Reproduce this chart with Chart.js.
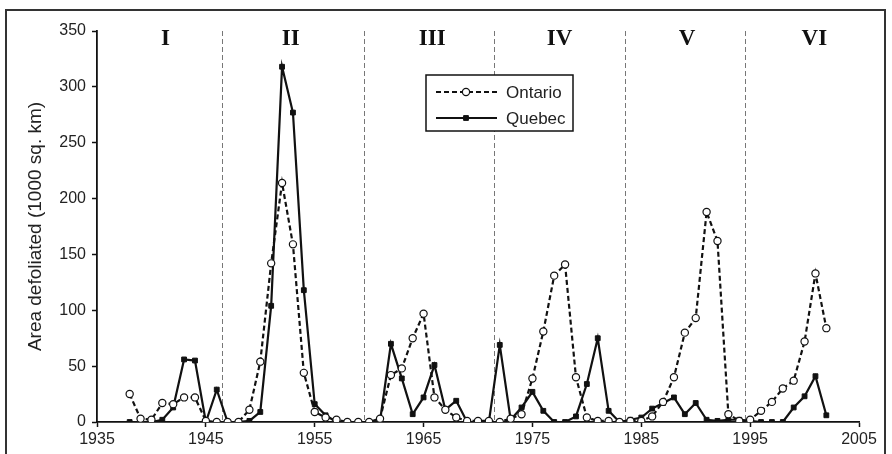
<!DOCTYPE html>
<html>
<head>
<meta charset="utf-8">
<script src="https://cdn.jsdelivr.net/npm/chart.js@4/dist/chart.umd.min.js"></script>
<style>
    html, body { margin: 0; padding: 0; background: #fff; }
    #wrap { width: 892px; height: 454px; }
</style>
</head>
<body>
<div id="wrap"><canvas id="chart" width="892" height="454"></canvas></div>
<script>
(function () {
    'use strict';

    // -----------------------------------------------------------------------
    // Data (area defoliated, 1000 sq. km)
    // -----------------------------------------------------------------------
    const YEARS = [
        1938, 1939, 1940, 1941, 1942, 1943, 1944, 1945, 1946, 1947,
        1948, 1949, 1950, 1951, 1952, 1953, 1954, 1955, 1956, 1957,
        1958, 1959, 1960, 1961, 1962, 1963, 1964, 1965, 1966, 1967,
        1968, 1969, 1970, 1971, 1972, 1973, 1974, 1975, 1976, 1977,
        1978, 1979, 1980, 1981, 1982, 1983, 1984, 1985, 1986, 1987,
        1988, 1989, 1990, 1991, 1992, 1993, 1994, 1995, 1996, 1997,
        1998, 1999, 2000, 2001, 2002,
    ];

    const ONTARIO = [
        25, 3, 2, 17, 16, 22, 22, 1, 0, 0,
        0, 11, 54, 142, 214, 159, 44, 9, 4, 2,
        0, 0, 0, 3, 42, 48, 75, 97, 22, 11,
        4, 1, 1, 1, 0, 3, 7, 39, 81, 131,
        141, 40, 4, 1, 1, 0, 1, 1, 5, 18,
        40, 80, 93, 188, 162, 7, 1, 2, 10, 18,
        30, 37, 72, 133, 84,
    ];

    const QUEBEC = [
        0, 0, 0, 2, 13, 56, 55, 0, 29, 0,
        0, 1, 9, 104, 318, 277, 118, 16, 6, 0,
        0, 0, 0, 1, 70, 39, 7, 22, 51, 11,
        19, 0, 0, 0, 69, 2, 13, 27, 10, 0,
        0, 5, 34, 75, 10, 0, 2, 4, 12, 17,
        22, 7, 17, 2, 1, 2, 2, 1, 0, 0,
        0, 13, 23, 41, 6,
    ];

    // Outbreak periods: boundaries between them and the label of each one
    const PERIOD_BOUNDS = [1946.5, 1959.5, 1971.5, 1983.5, 1994.5];
    const PERIOD_LABELS = ['I', 'II', 'III', 'IV', 'V', 'VI'];
    const PERIOD_LABEL_YEARS = [1941.3, 1952.8, 1965.8, 1977.5, 1989.2, 2000.9];

    const X_TICKS = [1935, 1945, 1955, 1965, 1975, 1985, 1995, 2005];
    const Y_TICKS = [0, 50, 100, 150, 200, 250, 300, 350];

    // -----------------------------------------------------------------------
    // Helpers
    // -----------------------------------------------------------------------
    const SANS = '"Liberation Sans", Arial, sans-serif';
    const SERIF = '"Liberation Serif", "Times New Roman", serif';

    function toPoints(values) {
        return YEARS.map(function (yr, i) { return { x: yr, y: values[i] }; });
    }

    // -----------------------------------------------------------------------
    // Decorations: period dividers, roman numerals, legend box, outer frame
    // -----------------------------------------------------------------------
    const periodsPlugin = {
        id: 'periods',
        beforeDatasetsDraw: function (chart) {
            const ctx = chart.ctx;
            const xs = chart.scales.x;
            const area = chart.chartArea;
            ctx.save();
            ctx.strokeStyle = '#777';
            ctx.lineWidth = 1;
            ctx.setLineDash([5, 3]);
            PERIOD_BOUNDS.forEach(function (yr) {
                const px = Math.round(xs.getPixelForValue(yr)) + 0.5;
                ctx.beginPath();
                ctx.moveTo(px, area.top);
                ctx.lineTo(px, area.bottom);
                ctx.stroke();
            });
            ctx.restore();

            ctx.save();
            ctx.fillStyle = '#111';
            ctx.font = 'bold 23px ' + SERIF;
            ctx.textAlign = 'center';
            ctx.textBaseline = 'alphabetic';
            PERIOD_LABELS.forEach(function (lbl, i) {
                ctx.fillText(lbl, xs.getPixelForValue(PERIOD_LABEL_YEARS[i]), 45);
            });
            ctx.restore();
        },
    };

    const legendPlugin = {
        id: 'boxLegend',
        afterDraw: function (chart) {
            const ctx = chart.ctx;
            const box = { left: 426, top: 75, right: 573, bottom: 131 };
            ctx.save();
            ctx.fillStyle = '#fff';
            ctx.fillRect(box.left, box.top, box.right - box.left, box.bottom - box.top);
            ctx.strokeStyle = '#111';
            ctx.lineWidth = 1.5;
            ctx.strokeRect(box.left, box.top, box.right - box.left, box.bottom - box.top);

            const rows = [92, 118];
            chart.data.datasets.forEach(function (ds, i) {
                const y = rows[i];
                ctx.strokeStyle = ds.borderColor;
                ctx.lineWidth = ds.borderWidth;
                ctx.setLineDash(ds.borderDash || []);
                ctx.beginPath();
                ctx.moveTo(436, y);
                ctx.lineTo(497, y);
                ctx.stroke();
                ctx.setLineDash([]);

                ctx.lineWidth = ds.pointBorderWidth;
                ctx.strokeStyle = ds.pointBorderColor;
                ctx.fillStyle = ds.pointBackgroundColor;
                Chart.helpers.drawPoint(ctx, {
                    pointStyle: ds.pointStyle,
                    radius: ds.pointRadius,
                    borderWidth: ds.pointBorderWidth,
                }, 466, y);

                ctx.fillStyle = '#222';
                ctx.font = '17px ' + SANS;
                ctx.textAlign = 'left';
                ctx.textBaseline = 'middle';
                ctx.fillText(ds.label, 506, y + 1);
            });

            // outer frame round the whole figure (bottom edge falls off the picture)
            ctx.strokeStyle = '#333';
            ctx.lineWidth = 2;
            ctx.strokeRect(6, 10, 879, 460);
            ctx.restore();
        },
    };

    // -----------------------------------------------------------------------
    // Chart
    // -----------------------------------------------------------------------
    new Chart(document.getElementById('chart'), {
        type: 'line',
        data: {
            datasets: [
                {
                    label: 'Ontario',
                    data: toPoints(ONTARIO),
                    borderColor: '#111',
                    borderWidth: 2.2,
                    borderDash: [5, 3],
                    pointStyle: 'circle',
                    pointRadius: 3.6,
                    pointBorderWidth: 1.2,
                    pointBorderColor: '#111',
                    pointBackgroundColor: '#fff',
                    tension: 0,
                    fill: false,
                },
                {
                    label: 'Quebec',
                    data: toPoints(QUEBEC),
                    borderColor: '#111',
                    borderWidth: 2.2,
                    pointStyle: 'rect',
                    pointRadius: 3.4,
                    pointBorderWidth: 1,
                    pointBorderColor: '#111',
                    pointBackgroundColor: '#111',
                    tension: 0,
                    fill: false,
                },
            ],
        },
        options: {
            responsive: false,
            animation: false,
            events: [],
            layout: { padding: { left: 0, top: 31, right: 33, bottom: 0 } },
            plugins: {
                legend: { display: false },
                tooltip: { enabled: false },
            },
            scales: {
                x: {
                    type: 'linear',
                    min: X_TICKS[0],
                    max: X_TICKS[X_TICKS.length - 1],
                    afterBuildTicks: function (s) {
                        s.ticks = X_TICKS.map(function (v) { return { value: v }; });
                    },
                    afterFit: function (s) { s.height = 32; },
                    ticks: {
                        color: '#222',
                        font: { family: SANS, size: 16 },
                        padding: 3,
                        maxRotation: 0,
                        callback: function (v) { return String(v); },
                    },
                    grid: {
                        drawOnChartArea: false,
                        drawTicks: true,
                        tickLength: 5,
                        tickColor: '#111',
                        tickWidth: 1.5,
                    },
                    border: { display: true, color: '#111', width: 1.8 },
                },
                y: {
                    min: Y_TICKS[0],
                    max: Y_TICKS[Y_TICKS.length - 1],
                    afterBuildTicks: function (s) {
                        s.ticks = Y_TICKS.map(function (v) { return { value: v }; });
                    },
                    afterFit: function (s) { s.width = 97; },
                    ticks: {
                        color: '#222',
                        font: { family: SANS, size: 16 },
                        padding: 6,
                    },
                    grid: {
                        drawOnChartArea: false,
                        drawTicks: true,
                        tickLength: 5,
                        tickColor: '#111',
                        tickWidth: 1.5,
                    },
                    border: { display: true, color: '#111', width: 1.8 },
                    title: {
                        display: true,
                        text: 'Area defoliated (1000 sq. km)',
                        color: '#222',
                        font: { family: SANS, size: 19 },
                        padding: { top: 24, bottom: 0 },
                    },
                },
            },
        },
        plugins: [periodsPlugin, legendPlugin],
    });
})();
</script>
</body>
</html>
